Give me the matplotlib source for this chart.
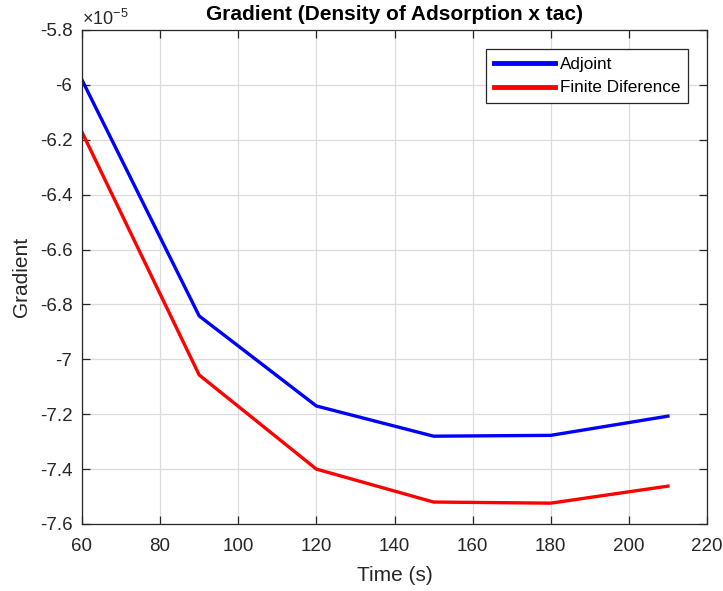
import matplotlib
matplotlib.use("Agg")
import matplotlib.pyplot as plt
from matplotlib.ticker import FuncFormatter, MultipleLocator

plt.rcParams['font.family'] = ['Liberation Sans', 'DejaVu Sans']
plt.rcParams['mathtext.fontset'] = 'custom'
plt.rcParams['mathtext.rm'] = 'Liberation Sans'

time_s = [60, 90, 120, 150, 180, 210]
adjoint = [-5.982e-5, -6.842e-5, -7.170e-5, -7.280e-5, -7.277e-5, -7.207e-5]
finite_diff = [-6.172e-5, -7.057e-5, -7.400e-5, -7.520e-5, -7.524e-5, -7.462e-5]

fig = plt.figure(figsize=(7.23, 5.91), dpi=100)
ax = fig.add_axes([82 / 723, 67 / 591, 625 / 723, 494 / 591])

ax.plot(time_s, adjoint, color='#0000ff', lw=2.4, label='Adjoint')
ax.plot(time_s, finite_diff, color='#ff0000', lw=2.4, label='Finite Diference')

ax.set_xlim(60, 220)
ax.set_ylim(-7.6e-5, -5.8e-5)
ax.xaxis.set_major_locator(MultipleLocator(20))
ax.yaxis.set_major_locator(MultipleLocator(0.2e-5))
ax.yaxis.set_major_formatter(FuncFormatter(lambda v, p: '%g' % round(v / 1e-5, 4)))

ax.grid(True, color='#dcdcdc', lw=0.9)
ax.set_axisbelow(True)
ax.tick_params(direction='in', top=True, right=True, length=6, width=0.9,
               labelsize=13.5, colors='#262626', pad=7)
ax.tick_params(axis='x', pad=10)
for s in ax.spines.values():
    s.set_color('#262626')
    s.set_linewidth(0.9)

ax.set_xlabel('Time (s)', fontsize=15, color='#262626', labelpad=8)
ax.set_ylabel('Gradient', fontsize=15, color='#262626', labelpad=6)
ax.set_title('Gradient (Density of Adsorption x tac)', fontsize=15,
             fontweight='bold', pad=7)

ax.text(0.0, 1.003, r'$\times$10$^{-5}$', transform=ax.transAxes,
        fontsize=13, color='#262626', ha='left', va='bottom')

leg = ax.legend(loc='upper right', bbox_to_anchor=(0.9695, 0.961), fontsize=12.3,
                fancybox=False, framealpha=1, edgecolor='#262626',
                handlelength=3.6, handletextpad=0.25, borderpad=0.45,
                labelspacing=0.5, borderaxespad=0)
leg.get_frame().set_linewidth(0.9)
for line in leg.get_lines():
    line.set_linewidth(3.5)

fig.savefig('out.png', dpi=100)
